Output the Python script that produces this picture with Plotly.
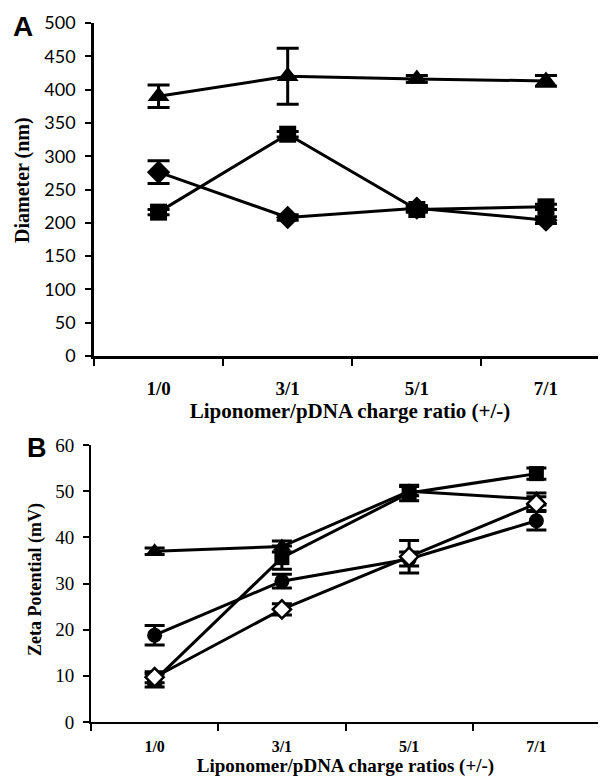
import plotly.graph_objects as go

# ---------------- data ----------------
ratios_a = ["1/0", "3/1", "5/1", "7/1"]
ratios_b = ["1/0", "3/1", "5/1", "7/1"]

# Panel A: Diameter (nm)
dia_triangle = [390, 420, 416, 413]
dia_triangle_err = [17, 42, 5, 8]
dia_square = [216, 333, 220, 224]
dia_square_err = [4, 4, 4, 4]
dia_diamond = [276, 208, 222, 204]
dia_diamond_err = [17, 4, 4, 5]

# Panel B: Zeta potential (mV)
zeta_triangle = [37.0, 38.0, 50.0, 48.3]
zeta_triangle_err = [0.7, 1.2, 1.0, 1.3]
zeta_square = [9.0, 35.6, 49.6, 53.8]
zeta_square_err = [1.4, 2.5, 1.7, 1.2]
zeta_circle = [18.8, 30.5, 35.3, 43.6]
zeta_circle_err = [2.1, 1.5, 1.5, 2.0]
zeta_diamond = [9.7, 24.4, 35.8, 47.3]
zeta_diamond_err = [1.2, 1.2, 3.5, 1.5]

yticks_a = [0, 50, 100, 150, 200, 250, 300, 350, 400, 450, 500]
yticks_b = [0, 10, 20, 30, 40, 50, 60]

BLACK = "black"
fig = go.Figure()


def add(x, y, err, symbol, size, xa, ya, capw, fill=BLACK):
    fig.add_trace(go.Scatter(
        x=x, y=y, xaxis=xa, yaxis=ya, mode="lines+markers",
        line=dict(color=BLACK, width=3),
        marker=dict(symbol=symbol, size=size, color=fill,
                    line=dict(color=BLACK, width=2.5 if fill != BLACK else 0)),
        error_y=dict(type="data", array=err, visible=True, color=BLACK,
                     thickness=3, width=capw),
        showlegend=False, cliponaxis=False,
    ))


# Panel A
add(ratios_a, dia_square, dia_square_err, "square", 17, "x", "y", 11)
add(ratios_a, dia_diamond, dia_diamond_err, "diamond", 18, "x", "y", 11)
add(ratios_a, dia_triangle, dia_triangle_err, "triangle-up", 19, "x", "y", 11)

# Panel B
add(ratios_b, zeta_triangle, zeta_triangle_err, "triangle-up", 16, "x2", "y2", 10)
add(ratios_b, zeta_square, zeta_square_err, "square", 15, "x2", "y2", 10)
add(ratios_b, zeta_circle, zeta_circle_err, "circle", 15, "x2", "y2", 10)
add(ratios_b, zeta_diamond, zeta_diamond_err, "diamond", 14, "x2", "y2", 10, fill="white")

W, H = 606, 776
OFF = 8  # the page body margin in the browser


def fx(px):
    return (px - OFF) / W


def fy(py):
    return 1 - (py - OFF) / H


serif = "Liberation Serif, Times New Roman, serif"
sans_tick = "Lato, Liberation Sans, sans-serif"

axis_common = dict(showline=True, linecolor=BLACK, showgrid=False, zeroline=False,
                   ticks="outside", tickcolor=BLACK, mirror=False, automargin=False)

fig.update_layout(
    width=W, height=H,
    margin=dict(l=0, r=0, t=0, b=0, pad=0, autoexpand=False),
    paper_bgcolor="white", plot_bgcolor="white",
    xaxis=dict(**axis_common, type="category", domain=[fx(94), fx(606)],
               range=[-0.5, 3.465], tickson="boundaries", ticklen=7, tickwidth=2,
               linewidth=2.5, anchor="y",
               tickfont=dict(family=serif, size=19, color=BLACK, weight="bold"),
               ticklabelstandoff=13,
               title=dict(text="<b>Liponomer/pDNA charge ratio (+/-)</b>",
                          font=dict(family=serif, size=21, color=BLACK), standoff=0)),
    yaxis=dict(**axis_common, domain=[fy(356), fy(23)], range=[0, 500],
               tickvals=yticks_a, ticklen=6, tickwidth=2, linewidth=2.5, anchor="x",
               tickfont=dict(family=sans_tick, size=18, color=BLACK),
               ticklabelstandoff=6),
    xaxis2=dict(**axis_common, type="category", domain=[fx(91), fx(600)],
                range=[-0.5, 3.5], tickson="boundaries", ticklen=7, tickwidth=1.5,
                linewidth=2, anchor="y2",
                tickfont=dict(family=serif, size=16, color=BLACK, weight="bold"),
                ticklabelstandoff=9,
                title=dict(text="<b>Liponomer/pDNA charge ratios (+/-)</b>",
                           font=dict(family=serif, size=19, color=BLACK), standoff=0)),
    yaxis2=dict(**axis_common, domain=[fy(722), fy(445)], range=[0, 60],
                tickvals=yticks_b, ticklen=6, tickwidth=1.5, linewidth=2, anchor="x2",
                tickfont=dict(family=serif, size=19, color=BLACK),
                ticklabelstandoff=5),
    annotations=[
        dict(text="<b>Diameter (nm)</b>", x=fx(22), y=fy(180), xref="paper", yref="paper",
             textangle=-90, showarrow=False, xanchor="center", yanchor="middle",
             font=dict(family=serif, size=20, color=BLACK)),
        dict(text="<b>Zeta Potential (mV)</b>", x=fx(35), y=fy(580), xref="paper", yref="paper",
             textangle=-90, showarrow=False, xanchor="center", yanchor="middle",
             font=dict(family=serif, size=18, color=BLACK)),
        dict(text="<b>A</b>", x=fx(23), y=fy(26), xref="paper", yref="paper",
             showarrow=False, xanchor="center", yanchor="middle",
             font=dict(family="Liberation Sans, Arial", size=28, color=BLACK)),
        dict(text="<b>B</b>", x=fx(37), y=fy(448), xref="paper", yref="paper",
             showarrow=False, xanchor="center", yanchor="middle",
             font=dict(family="Liberation Sans, Arial", size=27, color=BLACK)),
    ],
)

fig.write_html("out.html")
